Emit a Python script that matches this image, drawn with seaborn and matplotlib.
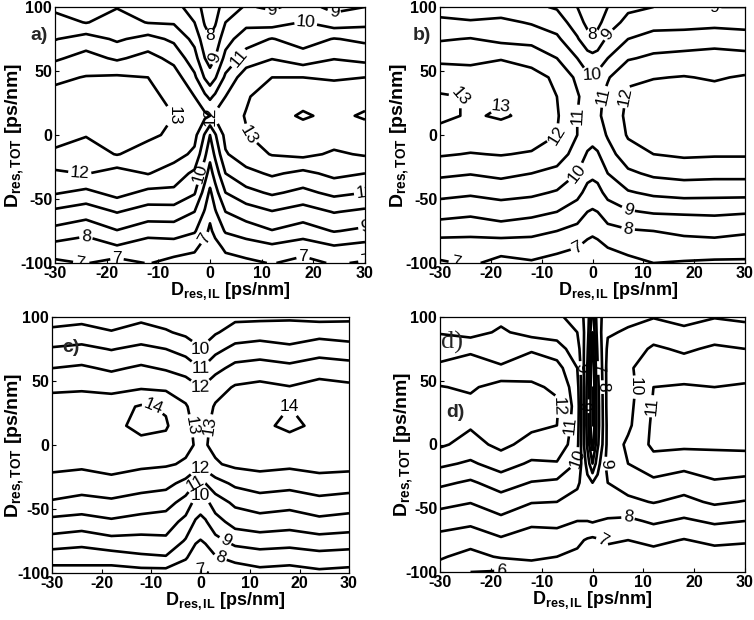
import numpy as np
import matplotlib
matplotlib.use("Agg")
import matplotlib.pyplot as plt
import seaborn as sns

# ---------------- data ----------------
x_il = [-30, -24, -18, -12, -7, -3, -1, 0, 1, 3, 7, 12, 18, 24, 30]
y_tot = [-100, -88, -75, -60, -45, -30, -15, 0, 15, 30, 45, 60, 75, 88, 100]
levels = [4, 5, 6, 7, 8, 9, 10, 11, 12, 13, 14]
x_ticks = [-30, -20, -10, 0, 10, 20, 30]
y_ticks = [-100, -50, 0, 50, 100]

z_a = [
    [6.8, 7.05, 6.6, 7.05, 6.7, 6.55, 6.2, 6.0, 6.2, 6.6, 6.8, 7.05, 6.7, 7.1, 6.9],
    [7.6, 7.3, 7.85, 7.35, 7.45, 7.2, 6.6, 6.3, 6.6, 7.2, 7.45, 7.75, 7.4, 7.85, 7.6],
    [8.7, 8.35, 8.95, 8.45, 8.5, 8.1, 7.3, 6.8, 7.3, 8.1, 8.5, 8.95, 8.55, 9.05, 8.8],
    [9.8, 9.45, 10.05, 9.55, 9.55, 9.0, 7.9, 7.3, 7.9, 9.0, 9.5, 9.95, 9.55, 10.05, 9.8],
    [11.1, 10.75, 11.35, 10.75, 10.8, 10.1, 8.6, 7.8, 8.6, 10.0, 10.7, 11.15, 10.75, 11.25, 11.0],
    [11.8, 12.05, 11.55, 12.05, 11.5, 10.8, 9.4, 8.6, 9.4, 11.0, 11.7, 12.15, 11.75, 12.25, 12.0],
    [12.9, 12.55, 13.05, 12.55, 12.4, 11.8, 10.2, 9.3, 10.2, 11.9, 12.6, 13.05, 13.25, 12.85, 13.1],
    [13.2, 13.05, 13.35, 13.2, 12.8, 12.3, 10.9, 10.0, 10.9, 12.3, 12.95, 13.5, 13.6, 13.5, 13.6],
    [13.4, 13.3, 13.4, 13.3, 13.0, 12.6, 12.2, 12.0, 12.2, 12.6, 13.05, 13.7, 14.1, 13.8, 14.1],
    [13.3, 13.2, 13.3, 13.2, 12.8, 12.0, 11.2, 10.8, 11.2, 12.0, 12.9, 13.5, 13.7, 13.5, 13.7],
    [12.8, 13.05, 13.15, 13.0, 12.5, 11.2, 9.9, 9.4, 9.9, 11.2, 12.6, 13.0, 13.0, 12.9, 13.0],
    [11.85, 12.35, 11.85, 12.35, 11.7, 10.4, 9.0, 8.6, 9.0, 10.3, 11.4, 11.95, 11.45, 11.95, 11.7],
    [10.95, 11.45, 10.85, 11.35, 10.8, 9.7, 8.4, 8.1, 8.4, 9.6, 10.6, 11.05, 10.55, 11.05, 10.8],
    [10.45, 9.95, 10.45, 9.95, 9.9, 9.0, 7.9, 7.6, 7.9, 9.0, 9.7, 9.55, 10.05, 9.45, 9.7],
    [9.75, 9.45, 9.95, 9.35, 9.3, 8.6, 7.6, 7.3, 7.6, 8.5, 9.1, 8.85, 9.35, 8.75, 9.0],
]

z_b = [
    [6.9, 7.1, 6.8, 6.9, 6.7, 6.5, 6.3, 6.2, 6.3, 6.5, 6.7, 7.0, 6.9, 6.8, 6.8],
    [7.4, 7.55, 7.25, 7.45, 7.2, 7.0, 6.7, 6.6, 6.7, 7.0, 7.3, 7.5, 7.65, 7.7, 7.6],
    [8.4, 8.25, 8.55, 8.3, 8.0, 7.7, 7.3, 7.2, 7.3, 7.7, 7.9, 8.0, 8.15, 8.2, 8.1],
    [9.4, 9.25, 9.45, 9.3, 9.0, 8.5, 8.0, 7.9, 8.0, 8.5, 8.9, 9.1, 9.15, 9.2, 9.1],
    [10.3, 10.15, 10.35, 10.2, 9.9, 9.3, 8.7, 8.6, 8.7, 9.3, 9.9, 10.2, 10.35, 10.3, 10.3],
    [11.2, 11.05, 11.25, 11.0, 10.7, 10.0, 9.3, 9.2, 9.3, 10.0, 10.8, 11.2, 11.35, 11.3, 11.3],
    [12.1, 11.95, 12.05, 11.9, 11.5, 10.6, 9.9, 9.8, 9.9, 10.6, 11.6, 12.0, 12.15, 12.1, 12.1],
    [12.7, 12.6, 12.6, 12.5, 12.0, 11.0, 10.5, 10.3, 10.5, 11.1, 12.1, 12.4, 12.4, 12.4, 12.4],
    [13.2, 12.9, 13.1, 12.8, 12.1, 11.0, 10.7, 10.6, 10.8, 11.4, 12.2, 12.5, 12.6, 12.6, 12.6],
    [13.1, 12.95, 12.9, 12.7, 12.0, 11.1, 10.6, 10.5, 10.7, 11.3, 12.1, 12.5, 12.5, 12.4, 12.5],
    [12.5, 12.6, 12.5, 12.4, 11.8, 10.8, 10.2, 10.1, 10.3, 10.9, 11.9, 11.95, 12.05, 11.9, 12.1],
    [11.8, 11.65, 11.95, 11.6, 11.0, 10.0, 9.4, 9.3, 9.4, 10.0, 10.9, 11.2, 11.3, 11.4, 11.3],
    [10.9, 11.05, 10.75, 10.7, 10.2, 9.1, 8.4, 8.2, 8.4, 9.2, 10.0, 10.4, 10.5, 10.6, 10.5],
    [10.2, 10.05, 10.25, 9.9, 9.5, 8.5, 7.7, 7.5, 7.7, 8.5, 9.3, 9.6, 9.6, 9.7, 9.6],
    [9.6, 9.7, 9.4, 9.2, 8.9, 8.0, 7.2, 7.0, 7.2, 8.0, 8.8, 9.0, 9.1, 9.0, 9.0],
]

z_c = [
    [7.6, 7.7, 7.5, 7.6, 7.6, 7.3, 7.0, 6.9, 6.95, 7.1, 7.4, 7.7, 7.6, 7.8, 7.7],
    [8.4, 8.3, 8.5, 8.8, 8.9, 8.1, 7.5, 7.4, 7.5, 7.9, 8.3, 8.5, 8.4, 8.6, 8.5],
    [9.6, 9.4, 9.7, 9.7, 9.8, 8.9, 8.1, 7.95, 8.1, 8.7, 9.3, 9.5, 9.4, 9.6, 9.5],
    [10.7, 10.55, 10.85, 10.6, 10.5, 9.7, 8.9, 8.7, 8.9, 9.6, 10.4, 10.6, 10.45, 10.75, 10.6],
    [11.9, 11.7, 11.8, 11.6, 11.4, 10.6, 9.7, 9.5, 9.7, 10.5, 11.2, 11.5, 11.35, 11.65, 11.5],
    [12.6, 12.45, 12.75, 12.4, 12.3, 11.7, 11.0, 10.8, 11.0, 11.6, 12.2, 12.5, 12.35, 12.65, 12.5],
    [13.3, 13.2, 13.3, 13.2, 13.1, 12.9, 12.5, 12.3, 12.5, 12.9, 13.2, 13.3, 13.2, 13.3, 13.3],
    [13.6, 13.6, 13.7, 13.8, 13.7, 13.2, 12.95, 12.9, 12.95, 13.2, 13.6, 13.7, 13.8, 13.6, 13.8],
    [13.8, 13.7, 13.8, 14.2, 14.1, 13.3, 12.8, 12.6, 12.8, 13.3, 13.8, 13.9, 14.1, 13.9, 14.0],
    [13.5, 13.4, 13.6, 14.1, 13.9, 13.1, 12.6, 12.4, 12.6, 13.1, 13.6, 13.8, 14.0, 13.8, 13.9],
    [12.8, 12.9, 12.7, 12.9, 12.8, 12.5, 12.2, 12.0, 12.2, 12.6, 13.1, 13.25, 13.05, 13.35, 13.2],
    [12.0, 12.15, 11.85, 12.15, 11.9, 11.6, 11.2, 11.0, 11.2, 11.7, 12.3, 12.45, 12.25, 12.55, 12.4],
    [11.1, 11.25, 10.95, 11.25, 11.0, 10.6, 10.2, 10.0, 10.2, 10.7, 11.3, 11.45, 11.25, 11.55, 11.4],
    [10.2, 10.35, 10.05, 10.35, 10.1, 9.8, 9.6, 9.5, 9.6, 9.9, 10.4, 10.55, 10.35, 10.65, 10.5],
    [9.6, 9.7, 9.6, 9.8, 9.6, 9.3, 9.1, 9.0, 9.1, 9.4, 9.8, 9.8, 9.9, 9.7, 9.8],
]

z_d = [
    [6.6, 6.0, 5.9, 6.4, 6.6, 6.5, 6.2, 6.0, 6.2, 6.4, 6.5, 6.3, 6.4, 6.2, 6.3],
    [7.1, 6.7, 7.1, 7.2, 7.0, 6.8, 6.4, 6.3, 6.4, 6.7, 6.8, 6.6, 6.6, 6.5, 6.6],
    [7.6, 7.35, 7.85, 7.45, 7.5, 7.2, 6.9, 6.8, 6.9, 7.1, 7.0, 7.25, 6.95, 7.25, 7.1],
    [8.5, 8.25, 8.75, 8.25, 8.3, 8.0, 8.0, 8.1, 8.0, 7.9, 7.8, 8.15, 7.85, 8.15, 8.0],
    [9.3, 9.05, 9.55, 9.05, 9.0, 8.6, 8.4, 8.4, 8.4, 8.6, 8.8, 9.05, 8.75, 9.15, 8.95],
    [10.2, 9.85, 10.45, 9.95, 9.8, 9.2, 8.3, 8.0, 8.3, 9.0, 9.4, 9.75, 9.45, 9.85, 9.7],
    [11.2, 10.85, 11.45, 10.85, 10.9, 9.9, 7.6, 6.0, 7.6, 9.4, 10.0, 10.65, 10.35, 10.75, 10.6],
    [12.15, 11.65, 12.25, 11.65, 11.8, 10.3, 6.8, 4.5, 6.8, 9.3, 10.2, 11.2, 11.2, 11.1, 11.2],
    [12.3, 12.1, 12.4, 12.2, 12.0, 10.5, 6.6, 4.0, 6.6, 9.3, 9.8, 11.2, 11.5, 11.4, 11.5],
    [12.4, 12.3, 12.5, 12.4, 12.1, 10.6, 6.6, 4.0, 6.6, 9.4, 9.7, 11.1, 11.4, 11.3, 11.4],
    [12.05, 11.85, 12.4, 12.1, 11.9, 10.4, 6.7, 4.0, 6.7, 9.4, 9.6, 11.0, 11.1, 11.0, 11.1],
    [11.25, 11.65, 11.15, 11.75, 11.4, 10.0, 6.9, 4.2, 6.9, 9.4, 9.8, 10.75, 10.45, 10.75, 10.6],
    [10.45, 10.75, 10.35, 10.85, 10.4, 9.5, 7.2, 4.5, 7.2, 9.2, 9.5, 10.15, 9.85, 10.15, 10.0],
    [9.95, 9.65, 10.15, 9.65, 9.6, 9.0, 7.5, 5.0, 7.5, 8.9, 9.1, 9.55, 9.25, 9.55, 9.4],
    [9.5, 9.25, 9.75, 9.25, 9.2, 8.6, 7.6, 5.5, 7.6, 8.6, 8.8, 8.95, 8.65, 8.95, 8.8],
]

# levels that carry a number on each panel
label_levels = [
    [6, 7, 8, 9, 10, 11, 12, 13, 14],
    [6, 7, 8, 9, 10, 11, 12, 13, 14],
    [6, 7, 8, 9, 10, 11, 12, 13, 14],
    [6, 7, 8, 9, 10, 11, 12],
]

panels = [
    ("a)", z_a),
    ("b)", z_b),
    ("c)", z_c),
    ("d)", z_d),
]

# ---------------- style ----------------
sns.set_theme(style="ticks")
plt.rcParams["font.family"] = ["Liberation Sans", "DejaVu Sans"]
plt.rcParams["mathtext.fontset"] = "custom"
plt.rcParams["mathtext.rm"] = "Liberation Sans"
plt.rcParams["mathtext.bf"] = "Liberation Sans:bold"
plt.rcParams["mathtext.it"] = "Liberation Sans:italic"
plt.rcParams["axes.unicode_minus"] = False

W, H = 754, 620
fig = plt.figure(figsize=(W / 100, H / 100), dpi=100)
fig.patch.set_facecolor("white")

# axes boxes in pixels: left, top, right, bottom
boxes = [
    (55, 7, 365, 263),
    (440, 7, 745, 263),
    (52, 317, 349, 573),
    (440, 317, 745, 572),
]
# right edge (px) of the rotated y label; centre and top (px) of the x label
ylab_right = [26, 411, 26, 415]
xlab_center = [230, 618, 225, 592]
xlab_top = [280, 280, 590, 589]

for (label, z), (l, t, r, b), yr, xc, xt, ll in zip(
        panels, boxes, ylab_right, xlab_center, xlab_top, label_levels):
    ax = fig.add_axes([l / W, 1 - b / H, (r - l) / W, (b - t) / H])
    ax.set_facecolor("white")
    cs = ax.contour(x_il, y_tot, np.array(z), levels=levels,
                    colors="black", linewidths=1.9)
    use = [lv for lv in ll if lv in list(cs.levels)]
    ax.clabel(cs, levels=use, fmt="%d", fontsize=12.5, inline=True,
              inline_spacing=2)
    ax.set_xlim(-30, 30)
    ax.set_ylim(-100, 100)
    ax.set_xticks(x_ticks)
    ax.set_yticks(y_ticks)
    ax.tick_params(direction="in", length=3, width=0.8, colors="black",
                   labelsize=11.5, pad=2)
    for tl in ax.get_xticklabels() + ax.get_yticklabels():
        tl.set_fontweight("bold")
    for sp in ax.spines.values():
        sp.set_color("black")
        sp.set_linewidth(0.9)
        sp.set_visible(True)
    ax.set_xlabel(r"$\mathbf{D_{res,IL}}$ [ps/nm]", fontsize=13,
                  fontweight="bold", color="black")
    ax.set_ylabel(r"$\mathbf{D_{res,TOT}}$ [ps/nm]", fontsize=14,
                  fontweight="bold", color="black")
    ax.xaxis.set_label_coords((xc - l) / (r - l), (b - xt) / (b - t))
    ax.yaxis.set_label_coords((yr - l) / (r - l), 0.5)

# panel labels
fig.text(30 / W, 1 - 40 / H, "a)", fontsize=14, fontweight="bold", va="baseline")
fig.text(413 / W, 1 - 40 / H, "b)", fontsize=14, fontweight="bold", va="baseline")
fig.text(62 / W, 1 - 352 / H, "c)", fontsize=14, fontweight="bold", va="baseline")
fig.text(441 / W, 1 - 349 / H, "d)", fontsize=19, family="Liberation Serif",
         va="baseline")
fig.text(446 / W, 1 - 417 / H, "d)", fontsize=14, fontweight="bold", va="baseline")

fig.savefig("out.png", dpi=100, facecolor="white")
